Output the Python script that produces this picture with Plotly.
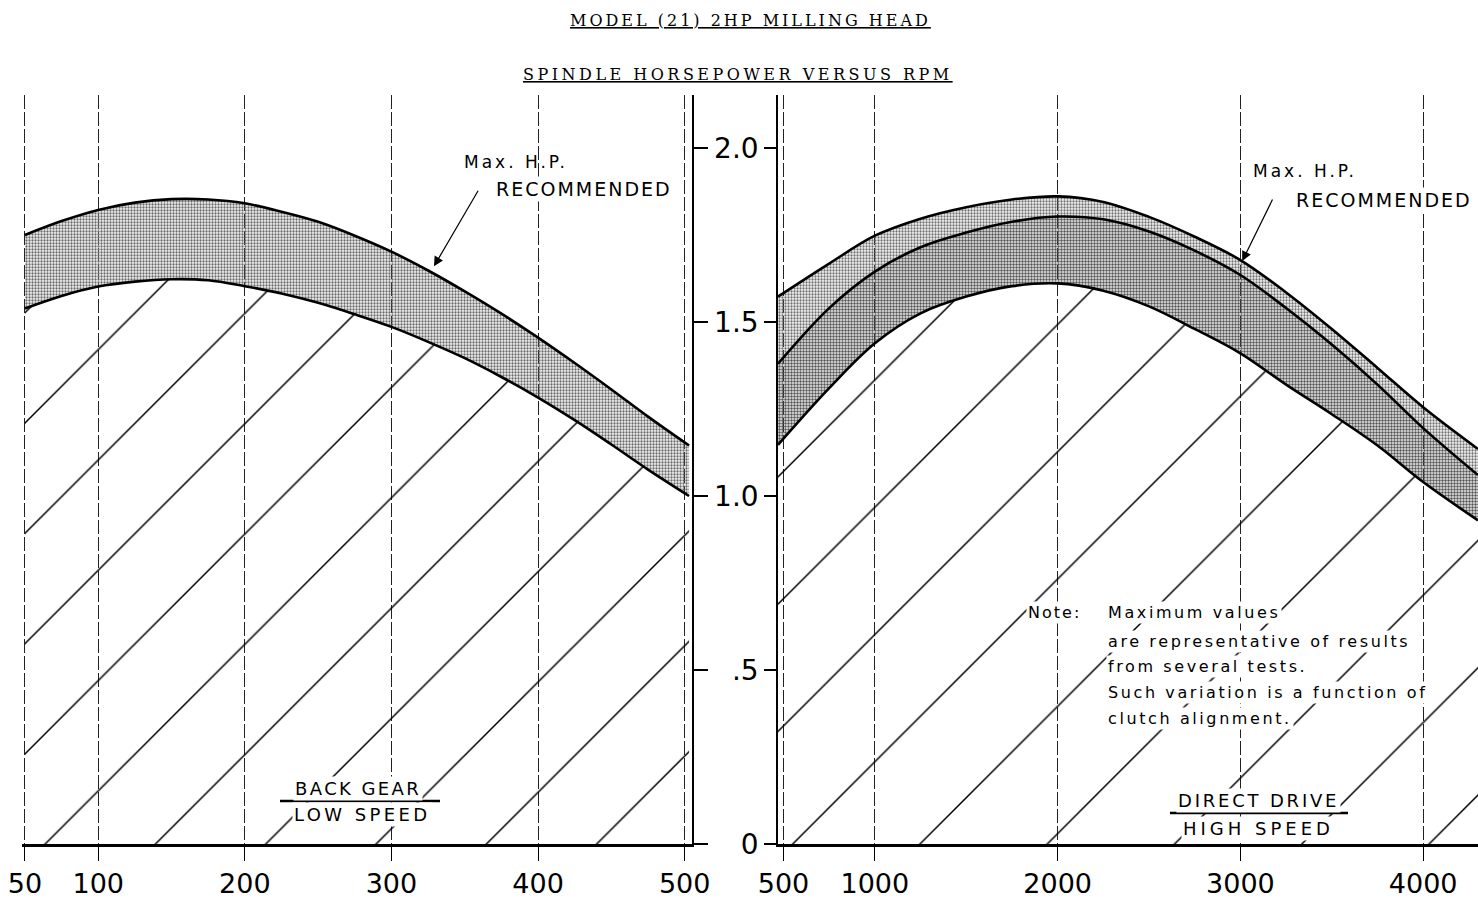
import plotly.graph_objects as go

# ---------------- data ----------------
left_rpm = [50, 75, 100, 125, 150, 175, 200, 225, 250, 275, 300, 325, 350,
            375, 400, 425, 450, 475, 503]
left_hp_upper = [1.75, 1.79, 1.822, 1.843, 1.853, 1.852, 1.841, 1.817, 1.788,
                 1.748, 1.702, 1.648, 1.588, 1.524, 1.455, 1.382, 1.306, 1.228, 1.145]
left_hp_lower = [1.539, 1.575, 1.602, 1.616, 1.623, 1.62, 1.603, 1.582, 1.555,
                 1.522, 1.486, 1.443, 1.396, 1.342, 1.283, 1.218, 1.148, 1.076, 1.0]

right_rpm = [470, 750, 1000, 1250, 1500, 1750, 2000, 2250, 2500, 2750, 3000,
             3250, 3500, 3750, 4000, 4300]
right_hp_upper = [1.573, 1.668, 1.748, 1.797, 1.83, 1.852, 1.861, 1.845, 1.802,
                  1.745, 1.678, 1.585, 1.48, 1.368, 1.255, 1.135]
right_hp_middle = [1.38, 1.54, 1.645, 1.715, 1.757, 1.788, 1.803, 1.795, 1.76,
                   1.705, 1.635, 1.54, 1.435, 1.32, 1.195, 1.06]
right_hp_lower = [1.147, 1.31, 1.439, 1.525, 1.573, 1.603, 1.611, 1.59, 1.545,
                  1.48, 1.41, 1.32, 1.235, 1.145, 1.04, 0.93]

left_tickvals = [50, 100, 200, 300, 400, 500]
left_ticktext = ["50", "100", "200", "300", "400", "500"]
right_tickvals = [500, 1000, 2000, 3000, 4000]
right_ticktext = ["500", "1000", "2000", "3000", "4000"]
hp_tickvals = [0, 0.5, 1.0, 1.5, 2.0]
hp_ticktext = ["0", ".5", "1.0", "1.5", "2.0"]

title_1 = "MODEL (21) 2HP MILLING HEAD"
title_2 = "SPINDLE HORSEPOWER VERSUS RPM"
note_lines = ["Maximum values", "are representative of results",
              "from several tests.", "Such variation is a function of",
              "clutch alignment."]

# ---------------- layout geometry ----------------
W, H = 1478, 914
TOP, BOTTOM = 95, 70
PLOT_H = H - TOP - BOTTOM
PX_PER_HP = 348.0
Y_MAX = PLOT_H / PX_PER_HP


def px(xp):
    return xp / W


def py(yp):
    return (H - BOTTOM - yp) / PLOT_H


def ls(text, sp):
    return '<span style="letter-spacing:%spx">%s</span>' % (sp, text)


fig = go.Figure()

curve = dict(color="black", width=2.6, shape="spline", smoothing=1.0)
clear = "rgba(0,0,0,0)"


def hatch(size):
    return dict(shape="/", size=size, solidity=1.5 / size, fgcolor="black",
                bgcolor=clear, fillmode="replace")


def stipple(color, bg, solid):
    return dict(shape=".", size=3, solidity=solid, fgcolor=color, bgcolor=bg,
                fillmode="replace")


# left panel (back gear)
fig.add_trace(go.Scatter(x=left_rpm, y=left_hp_lower, mode="lines", line=curve,
                         fill="tozeroy", fillcolor=clear, fillpattern=hatch(78),
                         xaxis="x", yaxis="y", showlegend=False, hoverinfo="skip"))
fig.add_trace(go.Scatter(x=left_rpm, y=left_hp_upper, mode="lines", line=curve,
                         fill="tonexty", fillcolor=clear,
                         fillpattern=stipple("#6a6a6a", "rgba(0,0,0,0.05)", 0.45),
                         xaxis="x", yaxis="y", showlegend=False, hoverinfo="skip"))

# right panel (direct drive)
fig.add_trace(go.Scatter(x=right_rpm, y=right_hp_lower, mode="lines", line=curve,
                         fill="tozeroy", fillcolor=clear, fillpattern=hatch(90),
                         xaxis="x2", yaxis="y2", showlegend=False, hoverinfo="skip"))
fig.add_trace(go.Scatter(x=right_rpm, y=right_hp_middle, mode="lines", line=curve,
                         fill="tonexty", fillcolor=clear,
                         fillpattern=stipple("#555555", "rgba(0,0,0,0.08)", 0.5),
                         xaxis="x2", yaxis="y2", showlegend=False, hoverinfo="skip"))
fig.add_trace(go.Scatter(x=right_rpm, y=right_hp_upper, mode="lines", line=curve,
                         fill="tonexty", fillcolor=clear,
                         fillpattern=stipple("#707070", "rgba(0,0,0,0.04)", 0.45),
                         xaxis="x2", yaxis="y2", showlegend=False, hoverinfo="skip"))

tickfont = dict(family="DejaVu Sans", size=27, color="black")
xcommon = dict(showgrid=True, gridcolor="#222222", gridwidth=1, griddash="14px,3px",
               showline=True, linecolor="black", linewidth=3, ticks="outside",
               ticklen=14, tickwidth=1, tickcolor="black", tickfont=tickfont,
               zeroline=False, fixedrange=True, automargin=False)

fig.update_layout(
    width=W, height=H,
    margin=dict(l=0, r=0, t=TOP, b=BOTTOM, pad=0, autoexpand=False),
    paper_bgcolor="white", plot_bgcolor="white",
    xaxis=dict(domain=[px(22), px(692)], range=[48, 505], anchor="y",
               tickvals=left_tickvals, ticktext=left_ticktext, **xcommon),
    xaxis2=dict(domain=[px(778), 1.0], range=[470, 4300], anchor="y2",
                tickvals=right_tickvals, ticktext=right_ticktext, **xcommon),
    yaxis=dict(domain=[0, 1], range=[0, Y_MAX], anchor="x", side="right",
               tickvals=hp_tickvals, showticklabels=False, ticks="outside",
               ticklen=14, tickwidth=2, tickcolor="black", showline=True,
               linecolor="black", linewidth=1.6, showgrid=False, zeroline=False,
               fixedrange=True, automargin=False),
    yaxis2=dict(domain=[0, 1], range=[0, Y_MAX], anchor="x2", side="left",
                tickvals=hp_tickvals, ticktext=hp_ticktext, ticks="outside",
                ticklen=12, tickwidth=2, tickcolor="black", showline=True,
                linecolor="black", linewidth=1.6, showgrid=False, zeroline=False,
                tickfont=dict(family="DejaVu Sans", size=28, color="black"),
                fixedrange=True, automargin=False),
)

ann = []


def text_at(xp, yp, text, font, bg=None, anchor="center"):
    d = dict(x=px(xp), y=py(yp), xref="paper", yref="paper", showarrow=False,
             xanchor=anchor, yanchor="middle", text=text, font=font)
    if bg:
        d["bgcolor"] = bg
    ann.append(d)


serif = dict(family="DejaVu Serif", size=16, color="black")
text_at(750, 21, "<u>" + ls(title_1, 3) + "</u>", serif)
text_at(738, 75, "<u>" + ls(title_2, 3.5) + "</u>", serif)

label_font = dict(family="DejaVu Sans", size=17, color="black")
cap_font = dict(family="DejaVu Sans", size=19, color="black")
# left "Max. H.P. RECOMMENDED"
text_at(516, 162, ls("Max. H.P.", 3), label_font)
text_at(584, 189, ls("RECOMMENDED", 2), cap_font, bg="white")
ann.append(dict(x=329, y=1.66, xref="x", yref="y", text="", showarrow=True,
                ax=45, ay=-77, arrowhead=2, arrowsize=1.6, arrowwidth=1.2,
                arrowcolor="black", standoff=0))
# right "Max. H.P. RECOMMENDED"
text_at(1305, 171, ls("Max. H.P.", 3), label_font)
text_at(1384, 200, ls("RECOMMENDED", 2), cap_font, bg="white")
ann.append(dict(x=3010, y=1.675, xref="x2", yref="y2", text="", showarrow=True,
                ax=31, ay=-63, arrowhead=2, arrowsize=1.6, arrowwidth=1.2,
                arrowcolor="black", standoff=0))

# gear labels
gear_font = dict(family="DejaVu Sans", size=18, color="black")
text_at(358, 788, ls("BACK GEAR", 2.4), gear_font, bg="white")
text_at(362, 814, ls("LOW SPEED", 3.4), gear_font, bg="white")
text_at(1258, 800, ls("DIRECT DRIVE", 2.8), gear_font, bg="white")
text_at(1258, 828, ls("HIGH SPEED", 4), gear_font, bg="white")

# note
note_font = dict(family="DejaVu Sans", size=16, color="black")
text_at(1026, 612, ls("Note:", 2), note_font, bg="white", anchor="left")
note_y = [612, 641, 666, 692, 718]
for t, yy in zip(note_lines, note_y):
    text_at(1106, yy, ls(t, 2.6), note_font, bg="white", anchor="left")

fig.update_layout(annotations=ann)

fig.update_layout(shapes=[
    dict(type="line", xref="paper", yref="paper", x0=px(280), x1=px(440),
         y0=py(801), y1=py(801), line=dict(color="black", width=2.5), layer="above"),
    dict(type="line", xref="paper", yref="paper", x0=px(1170), x1=px(1348),
         y0=py(813), y1=py(813), line=dict(color="black", width=2.5), layer="above"),
])

fig.write_html("out.html", config={"displayModeBar": False},
               post_script="document.body.style.margin='0px';")
